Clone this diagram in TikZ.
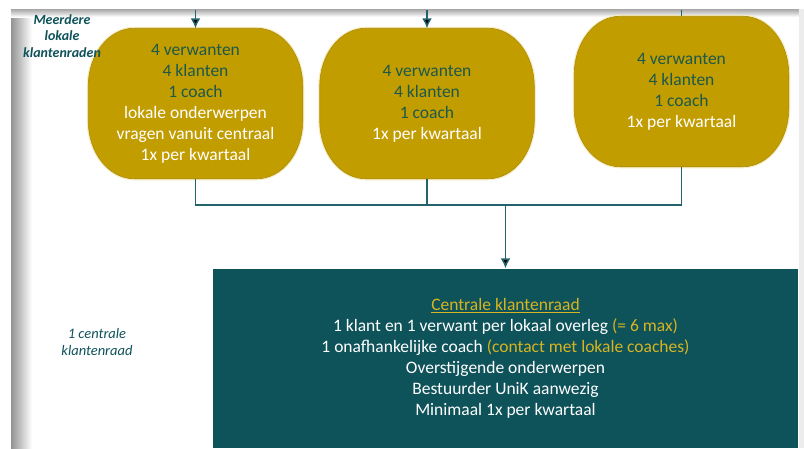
\documentclass[tikz,border=0pt]{standalone}
\usepackage{fontspec}
\setmainfont{Carlito}
\usepackage{tikz}
\usetikzlibrary{arrows.meta, positioning, backgrounds}

\definecolor{raadgoud}{RGB}{194,157,0}
\definecolor{raadrand}{RGB}{172,140,12}
\definecolor{raadgloed}{RGB}{246,236,190}
\definecolor{raadgroen}{RGB}{28,88,76}
\definecolor{raadteal}{RGB}{14,82,90}
\definecolor{raadlijn}{RGB}{36,98,108}
\definecolor{raadgeel}{RGB}{214,180,34}

\begin{document}
\begin{tikzpicture}[x=1pt,y=-1pt,font=\fontsize{17.5}{21}\selectfont,node distance=17pt,
		>={Latex[length=10pt,width=10pt]},line width=1.5pt]

		\tikzset{lokaal st/.style={minimum width=213pt, minimum height=149pt,
								align=center, inner sep=0pt},
				 vorm st/.style={draw=raadrand, line width=0.6pt, fill=raadgoud,
								preaction={draw=raadgloed, line width=3pt}},
				 centraal st/.style={fill=raadteal, text=white,
								minimum width=585pt, minimum height=179pt,
								align=center, inner sep=0pt},
				 label st/.style={text=raadteal, align=center,
								font=\fontsize{14.5}{17}\selectfont\itshape}}

		\useasboundingbox (0,0) rectangle (804,448);

		\node[lokaal st] (L1) at (195.5,103.5) {\textcolor{raadgroen}{4 verwanten}\\
			\textcolor{raadgroen}{4 klanten}\\ \textcolor{raadgroen}{1 coach}\\
			\textcolor{white}{lokale onderwerpen}\\ \textcolor{white}{vragen vanuit centraal}\\
			\textcolor{white}{1x per kwartaal}};
		\node[lokaal st, right=of L1] (L2) {\textcolor{raadgroen}{4 verwanten}\\
			\textcolor{raadgroen}{4 klanten}\\ \textcolor{raadgroen}{1 coach}\\
			\textcolor{white}{1x per kwartaal}};
		\node[lokaal st] (L3) at (681.5,91.5) {\textcolor{raadgroen}{4 verwanten}\\
			\textcolor{raadgroen}{4 klanten}\\ \textcolor{raadgroen}{1 coach}\\
			\textcolor{white}{1x per kwartaal}};

		\begin{scope}[on background layer]
		% frame of the screenshot
		\fill[white] (0,0) rectangle (804,448);
		\shade[left color=gray!85, right color=white] (11,9) rectangle (32,448);
		\shade[top color=gray!70, bottom color=white] (11,9) rectangle (804,17);
		\fill[gray!15] (799,9) rectangle (804,448);
		% the rounded shapes behind the local councils
		\foreach \n in {L1,L2,L3}
			\draw[vorm st] ([xshift=46pt]\n.north west) -- ([xshift=-46pt]\n.north east)
				arc[start angle=90, end angle=0, x radius=46pt, y radius=58pt]
				-- ([yshift=58pt]\n.south east)
				arc[start angle=0, end angle=-90, x radius=46pt, y radius=58pt]
				-- ([xshift=46pt]\n.south west)
				arc[start angle=-90, end angle=-180, x radius=46pt, y radius=58pt]
				-- ([yshift=-58pt]\n.north west)
				arc[start angle=180, end angle=90, x radius=46pt, y radius=58pt] -- cycle;
		\end{scope}

		\node[centraal st] (CR) at (505.5,358.5) {\textcolor{raadgeel}{\underline{Centrale klantenraad}}\\
			1 klant en 1 verwant per lokaal overleg \textcolor{raadgeel}{(= 6 max)}\\
			1 onafhankelijke coach \textcolor{raadgeel}{(contact met lokale coaches)}\\
			Overstijgende onderwerpen\\ Bestuurder UniK aanwezig\\ Minimaal 1x per kwartaal};

		\node[label st, font=\fontsize{14}{16.5}\selectfont\bfseries\itshape] (lokaal) at (62,36) {Meerdere\\ lokale\\ klantenraden};
		\node[label st] (centraal) at (97,342) {1 centrale\\ klantenraad};

		\coordinate (in1) at (L1.north |- 0,10);
		\coordinate (in2) at (L2.north |- 0,10);
		\coordinate (in3) at (L3.north |- 0,10);
		\coordinate (hub) at (CR.north |- 0,205);

		\draw[draw=raadlijn]
		(in1) edge[->] 			(L1.north)
		(in2) edge[->] 			(L2.north)
		(in3) edge 				(L3.north)
		(L1.south) edge[to path={|- (\tikztotarget)}] 	(hub)
		(L2.south) edge[to path={|- (\tikztotarget)}] 	(hub)
		(L3.south) edge[to path={|- (\tikztotarget)}] 	(hub)
		(hub) edge[->] 			(CR.north);
		\end{tikzpicture}
\end{document}
